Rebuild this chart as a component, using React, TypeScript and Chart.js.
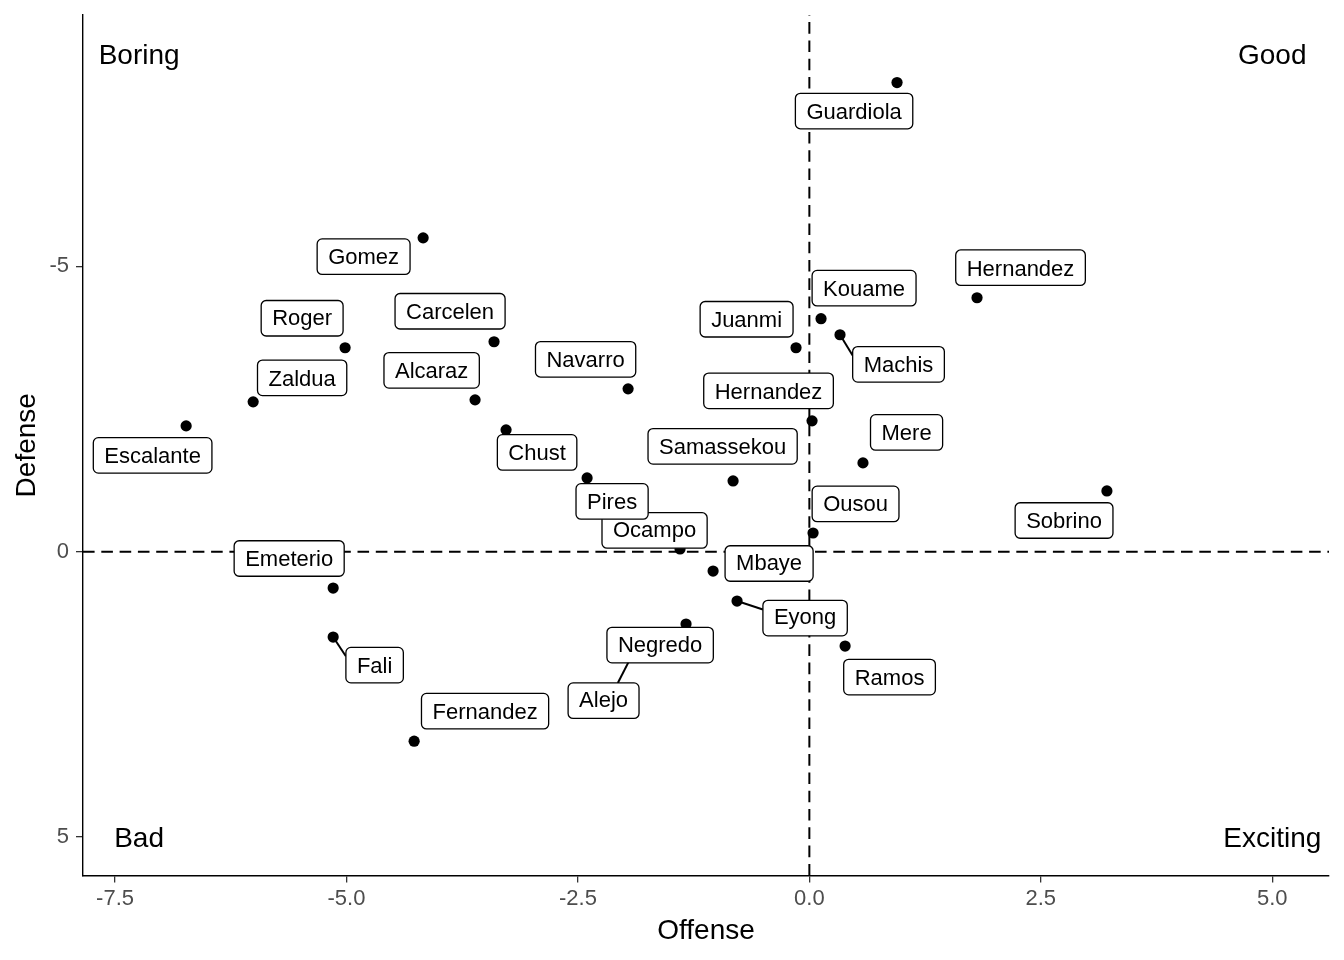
import React, { useEffect, useRef } from "react";
import { Chart, registerables } from "chart.js";

Chart.register(...registerables);

const FONT = "'Liberation Sans', Arial, Helvetica, sans-serif";

// Players (drawing order of the labels)
const playerNames = [
  "Guardiola", "Gomez", "Hernandez", "Kouame", "Machis", "Juanmi", "Roger",
  "Carcelen", "Navarro", "Zaldua", "Alcaraz", "Escalante", "Hernandez", "Chust",
  "Mere", "Samassekou", "Ocampo", "Pires", "Sobrino", "Ousou", "Mbaye",
  "Emeterio", "Eyong", "Alejo", "Negredo", "Fali", "Ramos", "Fernandez",
];
const offense = [
  0.947, -4.172, 1.811, 0.126, 0.331, -0.144, -5.015,
  -3.406, -1.958, -6.008, -3.611, -6.732, 0.029, -3.276,
  0.579, -0.824, -1.397, -2.401, 3.214, 0.04, -1.04,
  -5.144, -0.781, -1.915, -1.332, -5.144, 0.386, -4.269,
];
const defense = [
  -8.222, -5.5, -4.451, -4.083, -3.802, -3.574, -3.574,
  -3.679, -2.854, -2.626, -2.661, -2.205, -2.293, -2.135,
  -1.556, -1.24, -0.047, -1.293, -1.065, -0.328, 0.339,
  0.637, 0.865, 1.812, 1.268, 1.496, 1.654, 3.321,
];
// Repelled label centres (data units)
const labelOffense = [
  0.483, -4.815, 2.281, 0.591, 0.963, -0.678, -5.479,
  -3.881, -2.417, -5.479, -4.08, -7.094, -0.441, -2.941,
  1.05, -0.937, -1.672, -2.131, 2.751, 0.499, -0.435,
  -5.619, -0.046, -2.223, -1.612, -4.696, 0.866, -3.503,
];
const labelDefense = [
  -7.723, -5.17, -4.977, -4.618, -3.284, -4.074, -4.091,
  -4.214, -3.372, -3.047, -3.179, -1.688, -2.819, -1.74,
  -2.091, -1.846, -0.372, -0.881, -0.547, -0.837, 0.207,
  0.119, 1.163, 2.611, 1.637, 1.988, 2.198, 2.795,
];
const segmentNames = ["Machis", "Eyong", "Alejo", "Fali"];

const quadrantNames = ["Boring", "Good", "Bad", "Exciting"];
const quadrantOffense = [-7.24, 5.0, -7.24, 5.0];
const quadrantDefense = [-8.73, -8.73, 5.0, 5.0];

const xTickValues = [-7.5, -5, -2.5, 0, 2.5, 5];
const xTickLabels = ["-7.5", "-5.0", "-2.5", "0.0", "2.5", "5.0"];
const yTickValues = [-5, 0, 5];
const yTickLabels = ["-5", "0", "5"];
const xLimits = [-7.846, 5.613];
const yLimits = [-9.406, 5.675];
const referenceLines = { offense: 0, defense: 0 };

function clamp(v: number, a: number, b: number) {
  return Math.max(a, Math.min(b, v));
}

const overlayPlugin = {
  id: "overlay",
  beforeDatasetsDraw(chart: any) {
    const { ctx, chartArea: a } = chart;
    const xs = chart.scales.x;
    const ys = chart.scales.y;
    ctx.save();
    ctx.beginPath();
    ctx.rect(a.left, a.top, a.right - a.left, a.bottom - a.top);
    ctx.clip();
    ctx.strokeStyle = "#000";
    ctx.lineWidth = 2;
    ctx.setLineDash([11.6, 6.7]);
    const px = xs.getPixelForValue(referenceLines.offense);
    ctx.beginPath();
    ctx.moveTo(px, a.bottom);
    ctx.lineTo(px, a.top);
    ctx.stroke();
    const py = ys.getPixelForValue(referenceLines.defense);
    ctx.beginPath();
    ctx.moveTo(a.left, py);
    ctx.lineTo(a.right, py);
    ctx.stroke();
    ctx.restore();
  },
  afterDatasetsDraw(chart: any) {
    const { ctx } = chart;
    const xs = chart.scales.x;
    const ys = chart.scales.y;
    ctx.save();
    // quadrant annotations
    ctx.font = `28px ${FONT}`;
    ctx.fillStyle = "#000";
    ctx.textAlign = "center";
    ctx.textBaseline = "alphabetic";
    quadrantNames.forEach((t, i) => {
      const x = xs.getPixelForValue(quadrantOffense[i]);
      const y = ys.getPixelForValue(quadrantDefense[i]);
      ctx.fillText(t, x, y + 10);
    });

    // labels
    ctx.font = `22px ${FONT}`;
    const padX = 11;
    const h = 35.5;
    playerNames.forEach((name, i) => {
      const cx = xs.getPixelForValue(labelOffense[i]);
      const cy = ys.getPixelForValue(labelDefense[i]);
      const m = ctx.measureText(name);
      const w = m.width + padX * 2;
      const l = cx - w / 2, r = cx + w / 2, t = cy - h / 2, b = cy + h / 2;
      if (segmentNames.includes(name)) {
        const px = xs.getPixelForValue(offense[i]);
        const py = ys.getPixelForValue(defense[i]);
        const nx = clamp(px, l, r), ny = clamp(py, t, b);
        const dx = px < l ? l - px : px > r ? px - r : 0;
        const dy = py < t ? t - py : py > b ? py - b : 0;
        let ex = nx, ey = ny;
        if (dx >= dy) ey = (ny + cy) / 2;
        else ex = (nx + cx) / 2;
        ctx.setLineDash([]);
        ctx.strokeStyle = "#000";
        ctx.lineWidth = 2;
        ctx.beginPath();
        ctx.moveTo(px, py);
        ctx.lineTo(ex, ey);
        ctx.stroke();
      }
      ctx.beginPath();
      (ctx as any).roundRect(l, t, w, h, 5);
      ctx.fillStyle = "#fff";
      ctx.fill();
      ctx.strokeStyle = "#000";
      ctx.lineWidth = 1.3;
      ctx.stroke();
      const asc = m.actualBoundingBoxAscent || 16;
      const desc = m.actualBoundingBoxDescent || 0;
      ctx.fillStyle = "#000";
      ctx.textAlign = "center";
      ctx.textBaseline = "alphabetic";
      ctx.fillText(name, cx, cy + (asc - desc * 0.5) / 2);
    });
    ctx.restore();
  },
};

export default function App() {
  const ref = useRef<HTMLCanvasElement | null>(null);
  useEffect(() => {
    document.body.style.margin = "0";
    const canvas = ref.current!;
    const chart = new Chart(canvas, {
      type: "scatter",
      data: {
        datasets: [
          {
            data: offense.map((x, i) => ({ x, y: defense[i] })),
            pointRadius: 5.6,
            pointHoverRadius: 5.6,
            backgroundColor: "#000",
            borderColor: "#000",
            borderWidth: 0,
            pointBorderWidth: 0,
          },
        ],
      },
      options: {
        animation: false,
        responsive: false,
        events: [],
        layout: { padding: { top: 15, right: 15, left: 0, bottom: 0 } },
        plugins: { legend: { display: false }, tooltip: { enabled: false } },
        scales: {
          x: {
            type: "linear",
            min: xLimits[0],
            max: xLimits[1],
            afterBuildTicks: (s: any) => {
              s.ticks = xTickValues.map((v) => ({ value: v }));
            },
            afterFit: (s: any) => {
              s.height = 84.5;
              s.paddingLeft = 0;
              s.paddingRight = 0;
            },
            ticks: {
              callback: (_v: any, i: number) => xTickLabels[i],
              font: { family: FONT, size: 22 },
              color: "#4D4D4D",
              padding: 3,
              maxRotation: 0,
              autoSkip: false,
            },
            grid: {
              drawOnChartArea: false,
              drawTicks: true,
              tickLength: 7,
              color: "#333333",
              lineWidth: 1.3,
            },
            border: { display: true, color: "#000", width: 1.4 },
            title: {
              display: true,
              text: "Offense",
              font: { family: FONT, size: 28 },
              color: "#000",
              padding: { top: 0, bottom: 12 },
            },
          },
          y: {
            type: "linear",
            reverse: true,
            min: yLimits[0],
            max: yLimits[1],
            afterBuildTicks: (s: any) => {
              s.ticks = yTickValues.map((v) => ({ value: v }));
            },
            afterFit: (s: any) => {
              s.width = 83;
              s.paddingTop = 0;
              s.paddingBottom = 0;
            },
            ticks: {
              callback: (_v: any, i: number) => yTickLabels[i],
              font: { family: FONT, size: 22 },
              color: "#4D4D4D",
              padding: 7,
              autoSkip: false,
            },
            grid: {
              drawOnChartArea: false,
              drawTicks: true,
              tickLength: 7,
              color: "#333333",
              lineWidth: 1.3,
            },
            border: { display: true, color: "#000", width: 1.4 },
            title: {
              display: true,
              text: "Defense",
              font: { family: FONT, size: 28 },
              color: "#000",
              padding: { top: 10, bottom: 0 },
            },
          },
        },
      },
      plugins: [overlayPlugin],
    } as any);
    return () => chart.destroy();
  }, []);
  return (
    <div style={{ position: "absolute", left: 0, top: 0, width: 1344, height: 960, background: "#fff" }}>
      <canvas ref={ref} width={1344} height={960} style={{ display: "block", width: 1344, height: 960 }} />
    </div>
  );
}
